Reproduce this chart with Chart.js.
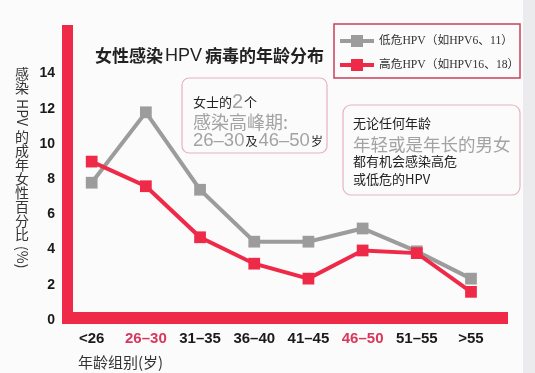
<!DOCTYPE html>
<html>
<head>
<meta charset="utf-8">
<script src="https://cdn.jsdelivr.net/npm/chart.js@4.4.1/dist/chart.umd.min.js"></script>
<style>
  body { margin: 0; background: #fbfbfc; }
  #wrap { width: 535px; height: 373px; position: relative; }
</style>
</head>
<body>
<div id="wrap"><canvas id="hpvChart"></canvas></div>
<script>
// age groups on the x axis
const categories = ['<26', '26–30', '31–35', '36–40', '41–45', '46–50', '51–55', '>55'];
const peakGroups = ['26–30', '46–50'];
// percentage of adult women infected
const lowRisk = [7.8, 11.8, 7.4, 4.45, 4.45, 5.2, 3.9, 2.35];
const highRisk = [9.0, 7.6, 4.7, 3.2, 2.35, 3.95, 3.8, 1.6];
const yTicks = [0, 2, 4, 6, 8, 10, 12, 14];

const seriesNames = ['低危HPV（如HPV6、11）', '高危HPV（如HPV16、18）'];
const xTitle = '年龄组别(岁)';

const RED = '#ee2a48';
const GRAY = '#9c9c9c';
const CJK = '"Noto Sans CJK SC", sans-serif';

// Helper: draw a rounded box
function roundBox(ctx, x, y, w, h, r, color) {
  ctx.save();
  ctx.strokeStyle = color;
  ctx.lineWidth = 1.2;
  ctx.beginPath();
  ctx.roundRect(x, y, w, h, r);
  ctx.stroke();
  ctx.restore();
}

// Helper: draw runs of text side by side, baseline middle
function drawRuns(ctx, x, y, runs) {
  ctx.save();
  ctx.textBaseline = 'middle';
  ctx.textAlign = 'left';
  runs.forEach(run => {
    ctx.font = run.font;
    ctx.fillStyle = run.color;
    ctx.fillText(run.text, x, y);
    x += ctx.measureText(run.text).width + (run.gap || 0);
  });
  ctx.restore();
}

const decorPlugin = {
  id: 'decor',
  beforeDraw(chart) {
    const ctx = chart.ctx;
    ctx.save();
    ctx.fillStyle = '#fbfbfc';
    ctx.fillRect(0, 0, chart.width, chart.height);
    ctx.fillStyle = '#ebebee';
    ctx.fillRect(523, 0, chart.width - 523, chart.height);
    ctx.restore();
  },
  beforeDatasetsDraw(chart) {
    const ctx = chart.ctx;
    const a = chart.chartArea;
    // thick red L shaped axes
    ctx.save();
    ctx.fillStyle = RED;
    ctx.fillRect(a.left - 6, a.top, 11, a.bottom + 4 - a.top);
    ctx.fillRect(a.left - 6, a.bottom - 8, a.right - a.left + 6, 12);
    ctx.restore();
  },
  afterDraw(chart) {
    const ctx = chart.ctx;

    // title
    drawRuns(ctx, 95, 56, [
      { text: '女性感染', font: 'bold 17px ' + CJK, color: '#222', gap: 2 },
      { text: 'HPV', font: '18px "Liberation Sans"', color: '#222', gap: 3 },
      { text: '病毒的年龄分布', font: 'bold 17px ' + CJK, color: '#222' }
    ]);

    // legend box
    ctx.save();
    ctx.strokeStyle = '#c9405a';
    ctx.lineWidth = 1.5;
    ctx.strokeRect(334, 24, 186, 54);
    [[GRAY, 41], [RED, 65]].forEach(([c, y], i) => {
      ctx.strokeStyle = c;
      ctx.lineWidth = 4;
      ctx.beginPath();
      ctx.moveTo(340, y);
      ctx.lineTo(374, y);
      ctx.stroke();
      ctx.fillStyle = c;
      ctx.fillRect(351, y - 6, 12, 12);
      ctx.fillStyle = '#333';
      ctx.font = '11.7px "Liberation Serif", ' + CJK;
      ctx.textBaseline = 'middle';
      ctx.fillText(seriesNames[i], 379, y);
    });
    ctx.restore();

    // annotation box 1
    roundBox(ctx, 182, 78, 145, 75, 7, '#e6b3c0');
    drawRuns(ctx, 193, 102, [
      { text: '女士的', font: '13px ' + CJK, color: '#222' },
      { text: '2', font: '20px "Liberation Sans"', color: '#a3a3a3', gap: 1 },
      { text: '个', font: '13px ' + CJK, color: '#222' }
    ]);
    drawRuns(ctx, 193, 122, [
      { text: '感染高峰期:', font: '18px ' + CJK, color: '#a3a3a3' }
    ]);
    drawRuns(ctx, 193, 141, [
      { text: '26–30', font: '18.5px "Liberation Sans"', color: '#a3a3a3', gap: 1 },
      { text: '及', font: '12px ' + CJK, color: '#222', gap: 1 },
      { text: '46–50', font: '18.5px "Liberation Sans"', color: '#a3a3a3', gap: 1 },
      { text: '岁', font: '12px ' + CJK, color: '#222' }
    ]);

    // annotation box 2
    roundBox(ctx, 343, 105, 177, 90, 8, '#e6b3c0');
    drawRuns(ctx, 353, 123, [{ text: '无论任何年龄', font: '13px ' + CJK, color: '#222' }]);
    drawRuns(ctx, 353, 144, [{ text: '年轻或是年长的男女', font: '17.5px ' + CJK, color: '#a3a3a3' }]);
    drawRuns(ctx, 353, 161, [{ text: '都有机会感染高危', font: '13px ' + CJK, color: '#222' }]);
    drawRuns(ctx, 353, 179, [{ text: '或低危的HPV', font: '13px ' + CJK, color: '#222' }]);

    // x axis title
    ctx.save();
    ctx.fillStyle = '#333';
    ctx.font = '15px ' + CJK;
    ctx.textBaseline = 'middle';
    ctx.fillText(xTitle, 78, 362);
    ctx.restore();

    // vertical y axis title, CJK upright, latin rotated
    const segs = [['感染', 0], ['HPV', 1], ['的成年女性百分比', 0], ['(%)', 1]];
    ctx.save();
    ctx.fillStyle = '#333';
    ctx.font = '14px ' + CJK;
    ctx.textBaseline = 'middle';
    ctx.textAlign = 'center';
    let cy = 67;
    segs.forEach(([txt, rot]) => {
      if (!rot) {
        for (const ch of txt) {
          ctx.fillText(ch, 22, cy + 7);
          cy += 14;
        }
      } else {
        const w = ctx.measureText(txt).width;
        cy += 4;
        ctx.save();
        ctx.translate(22, cy + w / 2);
        ctx.rotate(Math.PI / 2);
        ctx.fillText(txt, 0, 0);
        ctx.restore();
        cy += w + 4;
      }
    });
    ctx.restore();
  }
};

const pointsOf = arr => arr.map((v, i) => ({ x: i, y: v }));

new Chart(document.getElementById('hpvChart'), {
  type: 'line',
  data: {
    datasets: [
      {
        label: seriesNames[1],
        data: pointsOf(highRisk),
        borderColor: RED,
        backgroundColor: RED,
        borderWidth: 4,
        pointStyle: 'rect',
        pointRadius: 8.3,
        pointBorderWidth: 0,
        tension: 0
      },
      {
        label: seriesNames[0],
        data: pointsOf(lowRisk),
        borderColor: GRAY,
        backgroundColor: GRAY,
        borderWidth: 4,
        pointStyle: 'rect',
        pointRadius: 8.3,
        pointBorderWidth: 0,
        tension: 0
      }
    ]
  },
  options: {
    responsive: true,
    maintainAspectRatio: false,
    animation: false,
    layout: { padding: { top: 25, right: 27, left: 0, bottom: 0 } },
    plugins: {
      legend: { display: false },
      tooltip: { enabled: false }
    },
    scales: {
      x: {
        type: 'linear',
        min: -0.437,
        max: 7.683,
        grid: { display: false, drawTicks: false },
        border: { display: false },
        afterBuildTicks: scale => {
          scale.ticks = categories.map((c, i) => ({ value: i }));
        },
        afterFit: scale => { scale.height = 53; },
        ticks: {
          autoSkip: false,
          maxRotation: 0,
          padding: 10,
          font: { family: 'Liberation Sans', size: 15, weight: 'bold' },
          color: ctx => peakGroups.includes(categories[ctx.tick.value]) ? '#d8365a' : '#1a1a1a',
          callback: value => categories[value]
        }
      },
      y: {
        min: 0,
        max: 16.76,
        grid: { display: false, drawTicks: false },
        border: { display: false },
        afterBuildTicks: scale => {
          scale.ticks = yTicks.map(v => ({ value: v }));
        },
        afterFit: scale => { scale.width = 68; },
        ticks: {
          padding: 13,
          font: { family: 'Liberation Sans', size: 14, weight: 'bold' },
          color: '#1a1a1a'
        }
      }
    }
  },
  plugins: [decorPlugin]
});
</script>
</body>
</html>
